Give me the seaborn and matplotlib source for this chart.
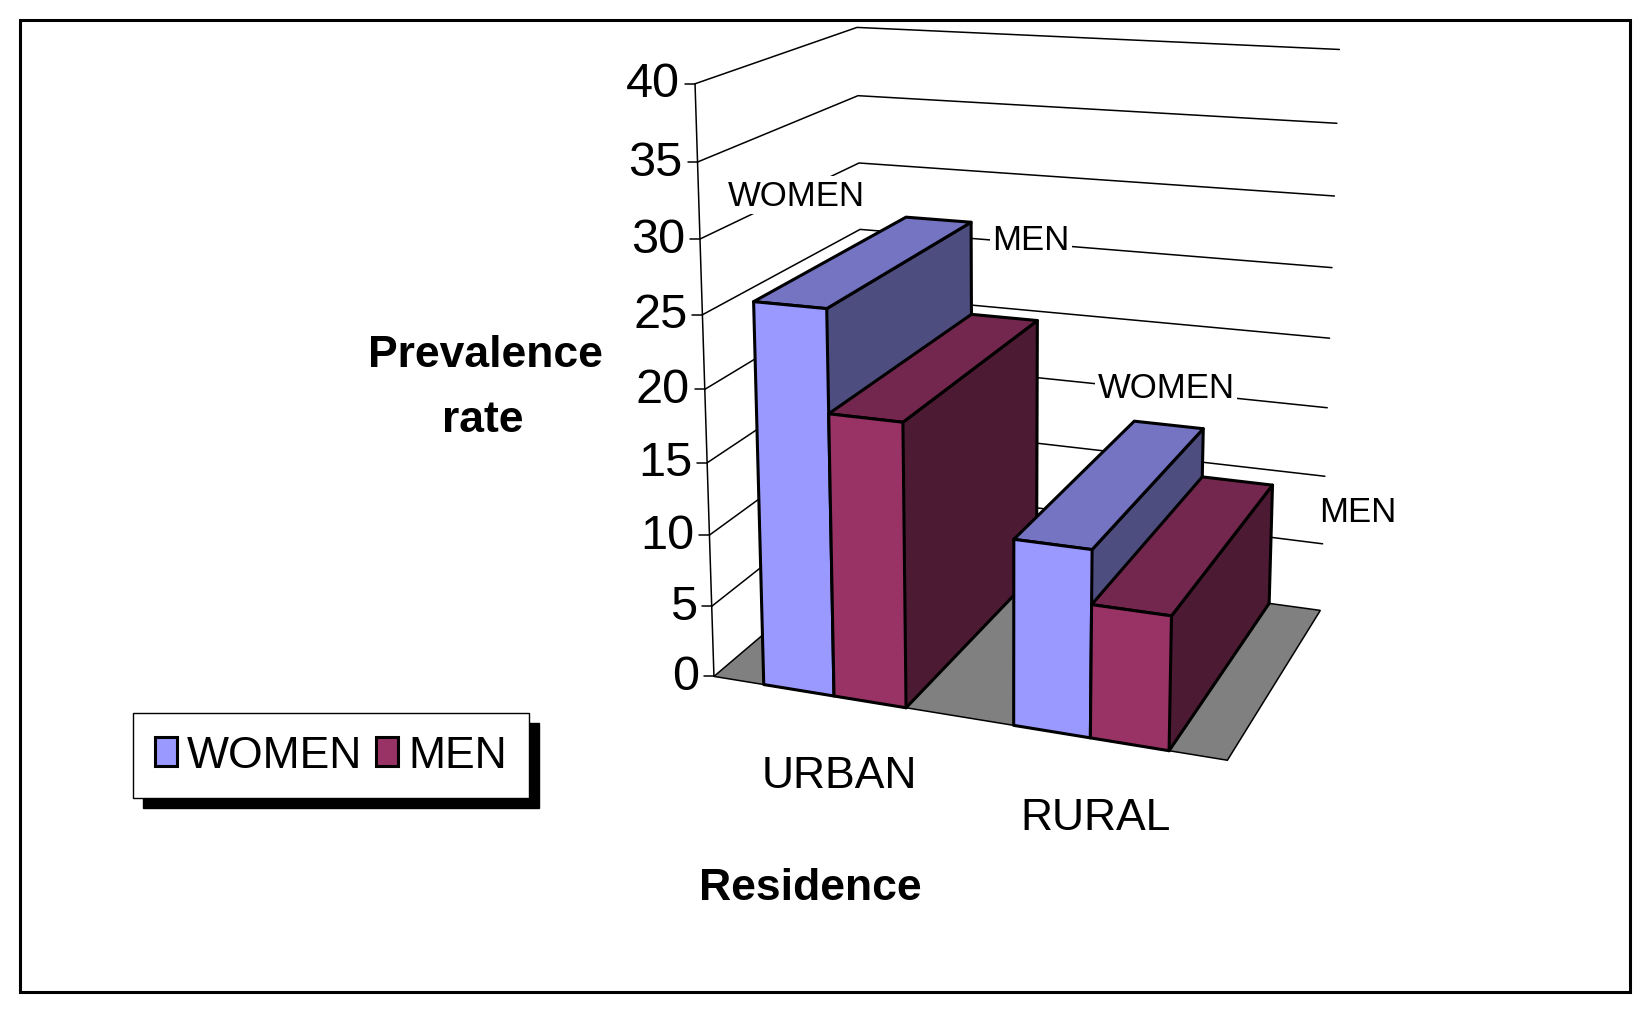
import numpy as np
import pandas as pd
import matplotlib
matplotlib.use("Agg")
import matplotlib.pyplot as plt
import matplotlib.transforms as mtransforms
from matplotlib.patches import Polygon, Rectangle
import seaborn as sns

# ---- data ----
residence = ["URBAN", "RURAL"]
sexes = ["WOMEN", "MEN"]
women_rate = [26.2, 12.5]
men_rate = [19.3, 8.9]
y_ticks = [0, 5, 10, 15, 20, 25, 30, 35, 40]
wall_labels = ["WOMEN", "MEN", "WOMEN", "MEN"]

sex_colors = {"WOMEN": "#9999FF", "MEN": "#993366"}

df = pd.DataFrame({
    "Residence": residence * 2,
    "Sex": [sexes[0]] * 2 + [sexes[1]] * 2,
    "Rate": women_rate + men_rate,
})

# ---- perspective of the 3D box (world x = category, y = value, z = depth) ----
W, H = 1645, 1012
frame_anchors = [
    ((-0.5, 0, 0), (715, 678)), ((-0.5, 20, 0), (705, 392)), ((-0.5, 40, 0), (695, 83)),
    ((1.5, 0, 0), (1228, 763)), ((1.5, 0, 1), (1320, 613)), ((1.5, 5, 1), (1323, 544)),
    ((1.5, 20, 1), (1330, 336)), ((1.5, 40, 1), (1340, 53)),
    ((-0.5, 40, 1), (857, 30)), ((-0.5, 35, 1), (857, 95)),
    ((-0.29, 0, 0), (766, 686)), ((0, 0, 0), (833, 695)), ((0.29, 0, 0), (904, 711)),
    ((0.71, 0, 0), (1013, 727)), ((1.0, 0, 0), (1091, 735)), ((1.29, 0, 0), (1168, 752)),
]


def fit_camera(pairs):
    rows = []
    for (x, y, z), (u, v) in pairs:
        w = [x, y / 40, z, 1]
        u, v = u / 1000, v / 1000
        rows.append(w + [0] * 4 + [-u * c for c in w])
        rows.append([0] * 4 + w + [-v * c for c in w])
    _, _, vt = np.linalg.svd(np.array(rows, float))
    return vt[-1].reshape(3, 4)


CAM = fit_camera(frame_anchors)


def project(x, y, z):
    x, y, z = np.broadcast_arrays(np.asarray(x, float), np.asarray(y, float), np.asarray(z, float))
    w = np.stack([x.ravel(), y.ravel() / 40, z.ravel(), np.ones(x.size)])
    p = CAM @ w
    return (p[0] / p[2] * 1000).reshape(x.shape), (p[1] / p[2] * 1000).reshape(x.shape)


class Plane(mtransforms.Transform):
    # maps (category, value) on the plane z = const to picture pixels
    input_dims = 2
    output_dims = 2

    def __init__(self, z_plane=0.0):
        super().__init__()
        self.z_plane = z_plane

    def transform_non_affine(self, values):
        values = np.asarray(values, float)
        u, v = project(values[:, 0], values[:, 1], self.z_plane)
        return np.column_stack([u, v])


sns.set_theme(style="white")
plt.rcParams["font.family"] = ["Liberation Sans", "DejaVu Sans"]

fig = plt.figure(figsize=(16.45, 10.12), dpi=100)
canvas = fig.add_axes([0, 0, 1, 1])
canvas.set_xlim(0, W)
canvas.set_ylim(H, 0)
canvas.axis("off")
PIX = canvas.transData

ax = fig.add_axes([0, 0, 1, 1])
sns.barplot(data=df, x="Residence", y="Rate", hue="Sex", order=residence, hue_order=sexes,
            palette=sex_colors, width=0.58, edgecolor="black", linewidth=2.2,
            saturation=1, errorbar=None, ax=ax)
ax.axis("off")
bars = sorted([p for c in ax.containers for p in c], key=lambda p: p.get_x())
for p in ax.patches:
    if p not in bars:
        p.set_visible(False)

depth = 1.0
grey = "#808080"
line_kw = dict(color="black", lw=1.1, transform=PIX, clip_on=False)
edge_kw = dict(color="black", lw=2.2, transform=PIX, clip_on=False,
               solid_capstyle="round", solid_joinstyle="round")

# walls: gridlines on the left and back wall
for t in y_ticks[1:]:
    u, v = project([-0.5, -0.5, 1.5], [t, t, t], [0, depth, depth])
    ax.plot(u, v, zorder=1, **line_kw)

# floor
fu, fv = project([-0.5, 1.5, 1.5, -0.5], [0, 0, 0, 0], [0, 0, depth, depth])
ax.add_patch(Polygon(np.column_stack([fu, fv]), closed=True, facecolor=grey,
                     edgecolor="black", lw=1.1, transform=PIX, clip_on=False, zorder=2))

# value axis, ticks and labels
au, av = project([-0.5, -0.5], [0, 40], [0, 0])
ax.plot(au, av, zorder=3, **line_kw)
for t in y_ticks:
    u, v = project(-0.5, t, 0)
    ax.plot([u - 10, u], [v, v], zorder=3, **line_kw)
    ax.text(u - 15, v, str(t), transform=PIX, ha="right", va="center",
            fontsize=35, color="black", zorder=3)

# bars: seaborn front faces bent into the perspective, plus top and side faces
lefts = [b.get_x() for b in bars]
for rank, bar in enumerate(bars):
    x0, x1, h = bar.get_x(), bar.get_x() + bar.get_width(), bar.get_height()
    base = np.array(bar.get_facecolor()[:3])
    z = 10 + 2 * rank
    bar.set_transform(Plane(0.0) + PIX)
    bar.set_clip_on(False)
    bar.set_zorder(z + 1)
    bar.set_joinstyle("round")

    # right side face
    su, sv = project([x1, x1, x1, x1], [0, h, h, 0], [0, 0, depth, depth])
    ax.add_patch(Polygon(np.column_stack([su, sv]), closed=True, facecolor=base * 0.5,
                         edgecolor="none", transform=PIX, clip_on=False, zorder=z))
    ax.plot(su[1:], sv[1:], zorder=z, **edge_kw)
    if not np.any(np.isclose(lefts, x1)):
        ax.plot([su[0], su[3]], [sv[0], sv[3]], zorder=z, **edge_kw)

    # top face
    tu, tv = project([x0, x1, x1, x0], [h, h, h, h], [0, 0, depth, depth])
    ax.add_patch(Polygon(np.column_stack([tu, tv]), closed=True, facecolor=base * 0.76,
                         edgecolor="black", lw=2.2, joinstyle="round", transform=PIX,
                         clip_on=False, zorder=z))

# category labels under the bars
for i, name in enumerate(residence):
    u, v = project(i, 0, 0)
    ax.text(u + 5, v + 91, name, transform=PIX, ha="center", va="baseline",
            fontsize=32, color="black")

# series labels standing on the walls
for name, (u, v) in zip(wall_labels, [(796, 196), (1031, 240), (1166, 388), (1358, 513)]):
    ax.text(u, v, name, transform=PIX, ha="center", va="center", fontsize=25,
            color="black", zorder=4,
            bbox=dict(facecolor="white", edgecolor="none", pad=2))

# axis titles
ax.text(485, 367, "Prevalence", transform=PIX, ha="center", va="baseline",
        fontsize=32, fontweight="bold", color="black")
ax.text(483, 432, "rate", transform=PIX, ha="center", va="baseline",
        fontsize=32, fontweight="bold", color="black")
ax.text(810, 900, "Residence", transform=PIX, ha="center", va="baseline",
        fontsize=32, fontweight="bold", color="black")

# legend with a hard drop shadow
sns.move_legend(ax, loc="upper left", bbox_to_anchor=(133 / W, 1 - 714 / H),
                bbox_transform=fig.transFigure, ncol=2, title=None, frameon=True,
                fontsize=32, fancybox=False, framealpha=1, edgecolor="black",
                borderpad=0.5, borderaxespad=0, handlelength=0.5, handleheight=0.65,
                handletextpad=0.22, columnspacing=0.3,
                shadow={"ox": 7.2, "oy": -7.2, "color": "black", "alpha": 1})
leg = ax.get_legend()
leg.get_frame().set_linewidth(1.0)
for txt in leg.get_texts():
    txt.set_color("black")

# outer frame of the chart area
ax.add_patch(Rectangle((20, 21), 1610, 972, fill=False, edgecolor="black", lw=2.2,
                       transform=PIX, clip_on=False, zorder=0))

fig.savefig("out.png", dpi=100)
